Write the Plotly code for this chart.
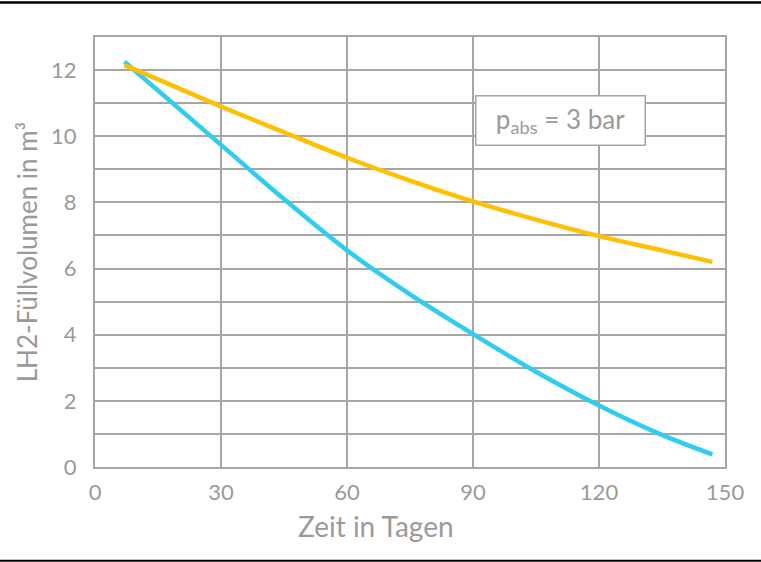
import plotly.graph_objects as go

# Data
days = [7, 15, 30, 45, 60, 75, 90, 105, 120, 135, 147]
vol_orange = [12.15, 11.72, 10.9, 10.12, 9.35, 8.66, 8.03, 7.48, 6.98, 6.55, 6.2]
vol_blue = [12.25, 11.38, 9.74, 8.1, 6.55, 5.22, 4.02, 2.88, 1.86, 0.97, 0.38]

x_ticks = [0, 30, 60, 90, 120, 150]
y_ticks = [0, 2, 4, 6, 8, 10, 12]

GRAY = "#a6a6a6"
TXT = "#9a9a9a"
FONT = "Lato"

fig = go.Figure()
fig.add_trace(go.Scatter(x=days, y=vol_blue, mode="lines", line=dict(color="#2ecdf3", width=4.5, shape="spline"),
                         showlegend=False, hoverinfo="skip"))
fig.add_trace(go.Scatter(x=days, y=vol_orange, mode="lines", line=dict(color="#ffc000", width=4.5, shape="spline"),
                         showlegend=False, hoverinfo="skip"))

fig.update_layout(
    width=761, height=562,
    margin=dict(l=95, r=36, t=37, b=95),
    paper_bgcolor="white", plot_bgcolor="white",
    font=dict(family=FONT, color=TXT, size=22),
    xaxis=dict(range=[0, 150], tickvals=x_ticks, showgrid=True, gridcolor=GRAY, gridwidth=2,
               showline=True, linecolor=GRAY, linewidth=2, mirror=True, zeroline=False,
               ticks="outside", ticklen=5, tickcolor="rgba(0,0,0,0)", tickfont=dict(size=22, color=TXT)),
    yaxis=dict(range=[0, 13], tickvals=y_ticks, showgrid=True, gridcolor=GRAY, gridwidth=1.5,
               minor=dict(dtick=1, showgrid=True, gridcolor=GRAY, gridwidth=1.5),
               showline=True, linecolor=GRAY, linewidth=2, mirror=True, zeroline=False,
               ticks="outside", ticklen=12, tickcolor="rgba(0,0,0,0)", tickfont=dict(size=22, color=TXT),
               title=dict(text="LH2-Füllvolumen in m³", font=dict(size=26, color=TXT), standoff=6)),
)

# x-axis title (placed slightly left of centre, as in the reference)
fig.add_annotation(x=0.446, y=-0.137, xref="paper", yref="paper", xanchor="center", yanchor="middle",
                   text="Zeit in Tagen", showarrow=False, font=dict(size=28, color=TXT, family=FONT))

fig.add_annotation(x=110.9, y=10.47, xref="x", yref="y",
                   text="p<sub>abs</sub> = 3 bar", showarrow=False,
                   font=dict(size=26, color=TXT, family=FONT),
                   bgcolor="white", bordercolor=GRAY, borderwidth=1.5,
                   width=166, height=46)

# document border lines (page frame)
fig.add_shape(type="line", xref="paper", yref="paper", x0=-0.16, x1=1.07, y0=1.0805, y1=1.0805,
              line=dict(color="black", width=2.5))
fig.add_shape(type="line", xref="paper", yref="paper", x0=-0.16, x1=1.07, y0=-0.218, y1=-0.218,
              line=dict(color="black", width=2))

fig.write_html("out.html", config={"displayModeBar": False},
               post_script="document.body.style.margin='0';document.body.style.overflow='hidden';")
